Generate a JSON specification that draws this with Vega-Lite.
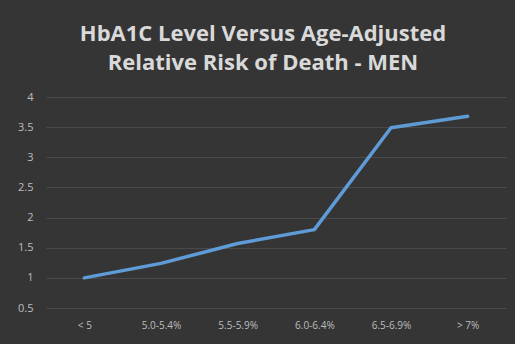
{
  "$schema": "https://vega.github.io/schema/vega-lite/v6.json",
  "autosize": "none",
  "width": 460,
  "height": 211,
  "padding": {"left": 46, "top": 97, "right": 9, "bottom": 36},
  "background": "#353535",
  "title": {
    "text": ["HbA1C Level Versus Age-Adjusted", "Relative Risk of Death - MEN"],
    "anchor": "middle",
    "dx": -13,
    "offset": 16,
    "font": "Open Sans",
    "fontSize": 22,
    "fontWeight": "bold",
    "lineHeight": 29,
    "color": "#d9d9d9"
  },
  "data": {
    "values": [
      {"level": "< 5", "risk": 1.0},
      {"level": "5.0-5.4%", "risk": 1.24},
      {"level": "5.5-5.9%", "risk": 1.57},
      {"level": "6.0-6.4%", "risk": 1.8},
      {"level": "6.5-6.9%", "risk": 3.49},
      {"level": "> 7%", "risk": 3.68}
    ]
  },
  "mark": {"type": "line", "color": "#5f9bd6", "strokeWidth": 3.5, "strokeCap": "round", "strokeJoin": "round"},
  "encoding": {
    "x": {
      "field": "level",
      "type": "ordinal",
      "sort": null,
      "scale": {"type": "point", "padding": 0.5},
      "axis": {"title": null, "labelAngle": 0, "ticks": false, "domain": false, "grid": false, "labelPadding": 12, "labelFontSize": 10, "labelFont": "Open Sans", "labelColor": "#bdbdbd"}
    },
    "y": {
      "field": "risk",
      "type": "quantitative",
      "scale": {"domain": [0.5, 4], "zero": false, "nice": false},
      "axis": {"title": null, "values": [0.5, 1, 1.5, 2, 2.5, 3, 3.5, 4], "format": "~g", "ticks": false, "domain": false, "labelPadding": 13, "labelFontSize": 11, "labelFont": "Open Sans", "labelColor": "#bdbdbd", "gridColor": "#4a4a4a", "gridWidth": 1}
    }
  },
  "config": {
    "view": {"stroke": null}
  }
}
